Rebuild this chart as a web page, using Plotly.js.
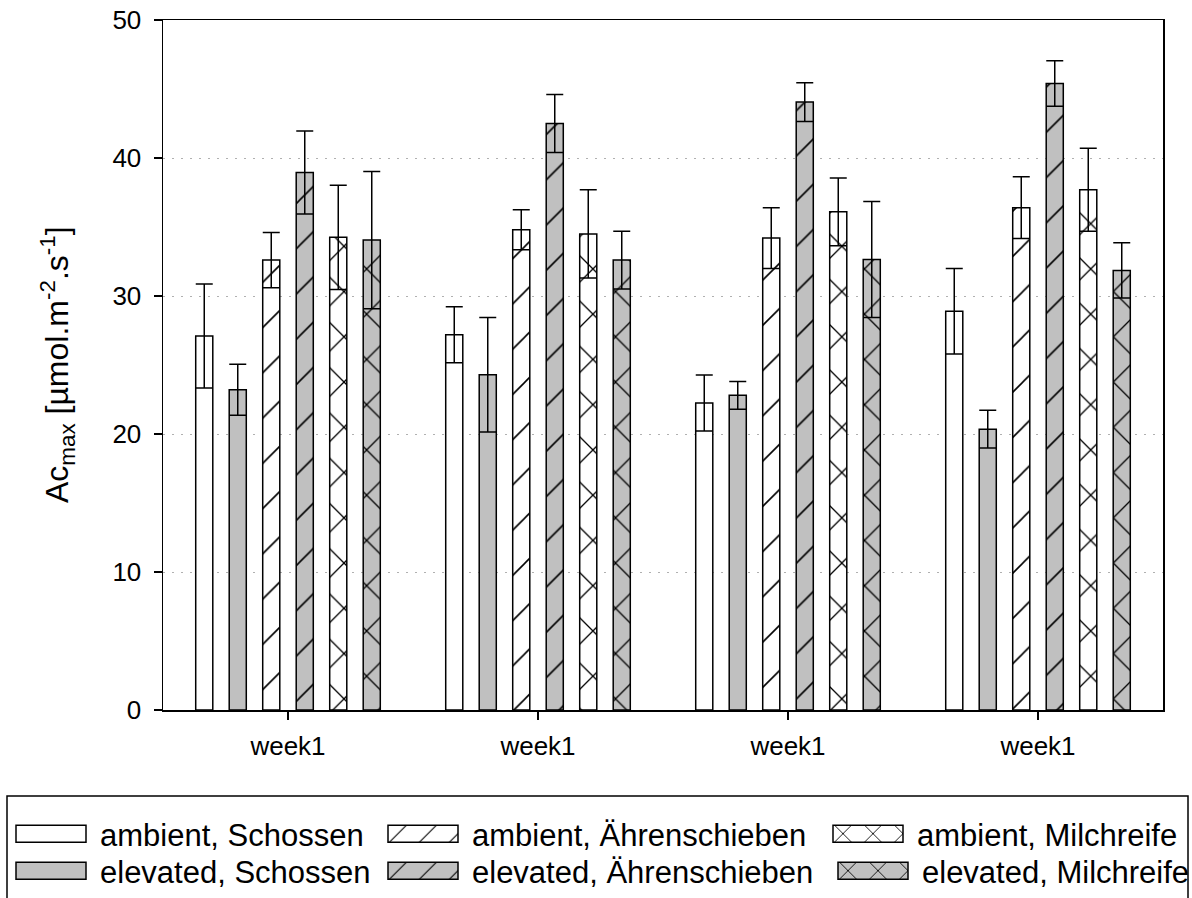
<!DOCTYPE html>
<html>
<head>
<meta charset="utf-8">
<script src="https://cdn.plot.ly/plotly-3.0.1.min.js"></script>
<style>
html,body{margin:0;padding:0;background:#fff;}
#chart{width:1192px;height:898px;}
</style>
</head>
<body>
<div id="chart"></div>
<script>
// Tick labels (all four groups are labelled "week1" in the source)
const tickLabels = ['week1', 'week1', 'week1', 'week1'];
const groupPos = [0, 1, 2, 3];
const yTicks = [0, 10, 20, 30, 40, 50];

// Series names
const seriesNames = [
  'ambient, Schossen', 'elevated, Schossen',
  'ambient, Ährenschieben', 'elevated, Ährenschieben',
  'ambient, Milchreife', 'elevated, Milchreife'
];

// Values (Ac_max) and errors
const ambSchossen = [27.1, 27.2, 22.25, 28.9];
const ambSchossenErr = [3.77, 2.03, 2.03, 3.1];
const elevSchossen = [23.2, 24.3, 22.8, 20.35];
const elevSchossenErr = [1.85, 4.15, 1.0, 1.37];
const ambAehren = [32.6, 34.8, 34.2, 36.4];
const ambAehrenErr = [2.0, 1.45, 2.2, 2.24];
const elevAehren = [38.95, 42.5, 44.05, 45.4];
const elevAehrenErr = [3.0, 2.1, 1.4, 1.65];
const ambMilch = [34.25, 34.5, 36.1, 37.7];
const ambMilchErr = [3.77, 3.2, 2.45, 3.0];
const elevMilch = [34.05, 32.6, 32.65, 31.85];
const elevMilchErr = [4.98, 2.1, 4.2, 2.0];

const WHITE = '#ffffff', GREY = '#c0c0c0';
const FONT = 'Liberation Sans, Arial, Helvetica, sans-serif';

function mk(name, y, err, fill, shape, legendId) {
  const pattern = shape ? {shape: shape, fgcolor: '#000000', bgcolor: fill, size: 32, solidity: shape === 'x' ? 0.08 : 0.05, fillmode: 'replace'} : {shape: ''};
  return {
    type: 'bar', name: name, x: groupPos, y: y,
    marker: {color: fill, line: {color: '#000000', width: 1.5}, pattern: pattern},
    error_y: {type: 'data', array: err, visible: true, color: '#000000', thickness: 1.5, width: 8.5},
    legend: legendId,
    hoverinfo: 'y+name'
  };
}

const data = [
  mk(seriesNames[0], ambSchossen, ambSchossenErr, WHITE, '', 'legend'),
  mk(seriesNames[1], elevSchossen, elevSchossenErr, GREY, '', 'legend2'),
  mk(seriesNames[2], ambAehren, ambAehrenErr, WHITE, '/', 'legend3'),
  mk(seriesNames[3], elevAehren, elevAehrenErr, GREY, '/', 'legend4'),
  mk(seriesNames[4], ambMilch, ambMilchErr, WHITE, 'x', 'legend5'),
  mk(seriesNames[5], elevMilch, elevMilchErr, GREY, 'x', 'legend6')
];

function leg(xpx, ycenter) {
  return {
    orientation: 'v', xref: 'container', yref: 'container', yanchor: 'middle', xanchor: 'left',
    x: xpx / 1192, y: 1 - ycenter / 898, bgcolor: 'rgba(0,0,0,0)', borderwidth: 0,
    itemwidth: 88,
    font: {family: FONT, size: 31, color: '#000'}
  };
}

const layout = {
  width: 1192, height: 898,
  paper_bgcolor: '#ffffff', plot_bgcolor: '#ffffff',
  margin: {l: 163, r: 29, t: 20, b: 188, pad: 0, autoexpand: false},
  font: {family: FONT, color: '#000'},
  barmode: 'group', bargap: 0.196, bargroupgap: 0.49,
  showlegend: true,
  legend: leg(2, 834),
  legend2: leg(2, 871),
  legend3: leg(374, 834),
  legend4: leg(374, 871),
  legend5: leg(819, 834),
  legend6: leg(824, 871),
  xaxis: {
    range: [-0.5, 3.5], tickmode: 'array', tickvals: groupPos, ticktext: tickLabels,
    ticks: 'outside', ticklen: 8, tickwidth: 1.5, tickcolor: '#000',
    showline: true, linecolor: '#000', linewidth: 1.5, mirror: true,
    showgrid: false, zeroline: false, tickangle: 0, ticklabelstandoff: 4,
    automargin: false,
    tickfont: {family: FONT, size: 26, color: '#000'}
  },
  yaxis: {
    range: [0, 50], tickmode: 'array', tickvals: yTicks,
    ticks: 'outside', ticklen: 8, tickwidth: 1.5, tickcolor: '#000',
    showline: true, linecolor: '#000', linewidth: 1.5, mirror: true,
    showgrid: true, gridcolor: '#b0b0b0', griddash: '2px,7px', gridwidth: 1,
    zeroline: false, ticklabelstandoff: 7, automargin: false,
    tickfont: {family: FONT, size: 26, color: '#000'}
  },
  annotations: [{
    xref: 'paper', yref: 'paper', x: (57 - 163) / 1000, y: 0.5,
    xanchor: 'center', yanchor: 'middle', textangle: -90, showarrow: false,
    text: 'Ac<sub>max</sub> [µmol.m<sup>-2</sup>.s<sup>-1</sup>]',
    font: {family: FONT, size: 32, color: '#000'}
  }],
  shapes: [{
    type: 'rect', xref: 'paper', yref: 'paper',
    x0: (7 - 163) / 1000, x1: (1188 - 163) / 1000,
    y0: (710 - 910) / 690, y1: (710 - 796) / 690,
    line: {color: '#000', width: 1.5}, fillcolor: 'rgba(0,0,0,0)', layer: 'below'
  }]
};

function styleLegendIcons(gd) {
  // widen the legend swatches to the long rectangles used in the reference
  gd.querySelectorAll('g.legendpoints path').forEach(function (p) {
    const d = p.getAttribute('d') || '';
    if (d.indexOf('M6,6H-6V-6H6Z') === 0 || p.classList.contains('legendbar')) {
      p.setAttribute('d', 'M35,8.5H-35V-8.5H35Z');
      // enlarge the hatch spacing in the swatch to match the bars
      const fill = p.getAttribute('fill') || p.style.fill || '';
      const m = fill.match(/url\(["']?#([^"')]+)["']?\)/);
      if (m) {
        const pat = document.getElementById(m[1]);
        if (pat && !pat.getAttribute('data-scaled')) {
          const w = parseFloat(pat.getAttribute('width')) || 8;
          const s = 30 / w;
          pat.setAttribute('patternTransform', 'translate(-10,-15) scale(' + s + ')');
          pat.setAttribute('data-scaled', '1');
        }
      }
    }
  });
}

const gdEl = document.getElementById('chart');
Plotly.newPlot(gdEl, data, layout, {displayModeBar: false, staticPlot: true}).then(function (gd) {
  styleLegendIcons(gd);
  gd.on('plotly_afterplot', function () { styleLegendIcons(gd); });
  setTimeout(function () { styleLegendIcons(gd); }, 50);
});
</script>
</body>
</html>
